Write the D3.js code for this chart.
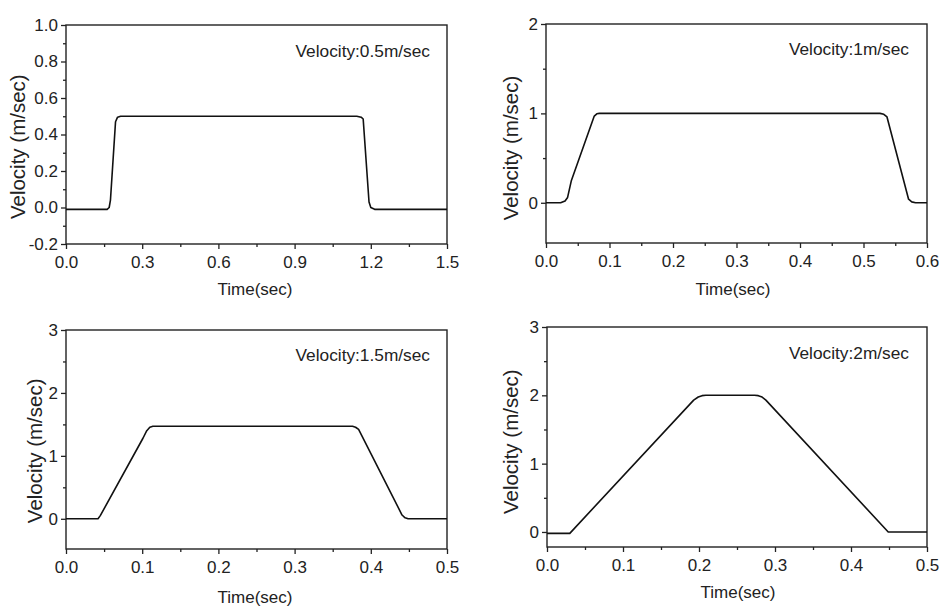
<!DOCTYPE html>
<html lang="en">
<head>
<meta charset="UTF-8">
<title>Velocity profiles</title>
<script src="https://cdn.jsdelivr.net/npm/d3@7"></script>
<style>
  body{margin:0;background:#fff;}
  svg text{font-family:"Liberation Sans",Arial,sans-serif;fill:#222;}
  .tick line{stroke:#222;stroke-width:1.3px;}
  .domain{display:none;}
</style>
</head>
<body>
<div id="graphWrap"></div>
<script>
// data (time in sec, velocity in m/sec)
var t1=[0,0.162,0.170,0.175,0.195,0.203,0.215,1.145,1.162,1.170,1.193,1.200,1.215,1.5];
var v1=[-0.01,-0.01,0.0,0.04,0.47,0.495,0.5,0.5,0.495,0.485,0.03,0.0,-0.01,-0.01];
var t2=[0,0.023,0.030,0.034,0.040,0.076,0.080,0.084,0.526,0.532,0.537,0.571,0.576,0.582,0.6];
var v2=[0,0,0.02,0.06,0.25,0.97,0.995,1.0,1.0,0.99,0.96,0.04,0.01,0,0];
var t3=[0,0.042,0.045,0.101,0.106,0.110,0.114,0.376,0.380,0.384,0.441,0.445,0.449,0.5];
var v3=[0,0,0.05,1.28,1.40,1.455,1.47,1.47,1.455,1.42,0.06,0.015,0,0];
var t4=[0,0.030,0.193,0.199,0.204,0.209,0.273,0.278,0.283,0.288,0.449,0.5];
var v4=[-0.02,-0.02,1.93,1.975,1.995,2.0,2.0,1.995,1.975,1.93,0.0,0.0];
var labels=["Velocity:0.5m/sec","Velocity:1m/sec","Velocity:1.5m/sec","Velocity:2m/sec"];
var xMajor=[[0,0.3,0.6,0.9,1.2,1.5],[0,0.1,0.2,0.3,0.4,0.5,0.6],[0,0.1,0.2,0.3,0.4,0.5],[0,0.1,0.2,0.3,0.4,0.5]];
var xMinor=[[0.15,0.45,0.75,1.05,1.35],[0.05,0.15,0.25,0.35,0.45,0.55],[0.05,0.15,0.25,0.35,0.45],[0.05,0.15,0.25,0.35,0.45]];
var yMajor=[[-0.2,0,0.2,0.4,0.6,0.8,1.0],[0,1,2],[0,1,2,3],[0,1,2,3]];
var yMinor=[[-0.1,0.1,0.3,0.5,0.7,0.9],[0.5,1.5],[0.5,1.5,2.5],[0.5,1.5,2.5]];
var xMax=[1.5,0.6,0.5,0.5];
var yDom=[[-0.2,1.0],[-0.45,2],[-0.48,3],[-0.22,3]];
var yFmt=[".1f","d","d","d"];

// layout of each panel
var boxes=[
  {l:66,r:447,t:25,b:244, yt:[25,146.7], xt:[255,295], an:[430,56.7]},
  {l:546,r:927,t:24,b:243, yt:[518,148], xt:[733,295], an:[909,55]},
  {l:66,r:447,t:330,b:549, yt:[41.7,450.8], xt:[255,603], an:[430,360.7]},
  {l:547,r:927,t:327,b:547, yt:[518.3,441.7], xt:[738,598], an:[909,359.3]}
];
var series=[[t1,v1],[t2,v2],[t3,v3],[t4,v4]];

// hyphen instead of the unicode minus
var fmt=function(f){var ff=d3.format(f);return function(d){return ff(d).replace("\u2212","-");};};

var svg=d3.select("#graphWrap").append("svg").attr("width",940).attr("height",610);

boxes.forEach(function(bx,i){
  var x=d3.scaleLinear().domain([0,xMax[i]]).range([bx.l,bx.r]);
  var y=d3.scaleLinear().domain(yDom[i]).range([bx.b,bx.t]);
  var g=svg.append("g");

  // minor ticks
  g.append("g").attr("transform","translate(0,"+bx.b+")")
    .call(d3.axisBottom(x).tickValues(xMinor[i]).tickSize(3).tickFormat(""));
  g.append("g").attr("transform","translate("+bx.l+",0)")
    .call(d3.axisLeft(y).tickValues(yMinor[i]).tickSize(3).tickFormat(""));
  // major ticks
  g.append("g").attr("transform","translate(0,"+bx.b+")")
    .call(d3.axisBottom(x).tickValues(xMajor[i]).tickSize(5).tickPadding(7).tickFormat(fmt(".1f")))
    .selectAll("text").style("font-size","17px").attr("fill","#222");
  g.append("g").attr("transform","translate("+bx.l+",0)")
    .call(d3.axisLeft(y).tickValues(yMajor[i]).tickSize(5).tickPadding(3).tickFormat(fmt(yFmt[i])))
    .selectAll("text").style("font-size","17px").attr("fill","#222");

  // frame
  g.append("rect").attr("x",bx.l).attr("y",bx.t).attr("width",bx.r-bx.l).attr("height",bx.b-bx.t)
    .attr("fill","none").attr("stroke","#222").attr("stroke-width",1.4);

  // curve
  var pts=series[i][0].map(function(t,k){return [t,series[i][1][k]];});
  g.append("path").datum(pts)
    .attr("d",d3.line().x(function(d){return x(d[0]);}).y(function(d){return y(d[1]);}))
    .attr("fill","none").attr("stroke","#111").attr("stroke-width",1.6).attr("stroke-linejoin","round");

  // titles
  g.append("text").attr("transform","translate("+bx.yt[0]+","+bx.yt[1]+") rotate(-90)")
    .attr("text-anchor","middle").style("font-size","20.5px").text("Velocity (m/sec)");
  g.append("text").attr("x",bx.xt[0]).attr("y",bx.xt[1]).attr("text-anchor","middle")
    .style("font-size","17px").text("Time(sec)");
  g.append("text").attr("x",bx.an[0]).attr("y",bx.an[1]).attr("text-anchor","end")
    .style("font-size","17.3px").text(labels[i]);
});
</script>
</body>
</html>
